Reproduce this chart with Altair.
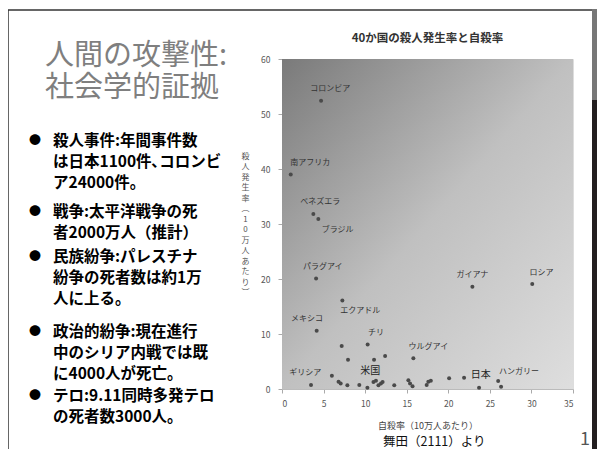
import altair as alt
import pandas as pd

FONT = "Noto Sans CJK JP"

# ---- scatter data (suicide rate, homicide rate per 100k) ----
suicide = [4.7, 1.05, 3.77, 4.37, 4.1, 22.9, 30.1, 7.26, 4.17, 7.18, 10.3, 7.94,
           11.07, 12.4, 15.8, 3.49, 6.0, 6.8, 7.06, 7.86, 9.3, 10.27, 11.0, 11.3,
           11.6, 11.9, 12.1, 13.5, 15.2, 15.4, 15.7, 17.4, 17.6, 17.9, 20.1, 21.9,
           23.7, 26.0, 26.35]
homicide = [52.4, 39.0, 31.8, 30.9, 20.1, 18.6, 19.1, 16.1, 10.6, 7.8, 8.1, 5.3,
            5.3, 6.0, 5.6, 0.73, 2.4, 1.3, 1.0, 0.67, 0.73, 0.24, 1.27, 1.5,
            0.67, 1.0, 1.27, 0.67, 1.6, 1.0, 0.48, 0.73, 1.33, 1.5, 1.94, 2.06,
            0.24, 1.45, 0.42]

# ---- country labels ----
label_names = ["コロンビア", "南アフリカ", "ベネズエラ", "ブラジル", "パラグアイ", "ガイアナ",
               "ロシア", "エクアドル", "メキシコ", "チリ", "ウルグアイ", "ギリシア", "ハンガリー"]
label_x = [5.8, 3.4, 4.6, 6.7, 4.9, 22.9, 31.2, 9.4, 3.0, 11.3, 17.6, 2.8, 28.5]
label_y = [54.5, 41.1, 34.0, 28.9, 22.2, 20.7, 21.1, 14.1, 12.7, 10.1, 7.6, 2.85, 3.1]
big_names = ["米国", "日本"]
big_x = [10.6, 23.9]
big_y = [3.3, 2.5]

x_ticks = [0, 5, 10, 15, 20, 25, 30, 35]
y_ticks = [0, 10, 20, 30, 40, 50, 60]
x_domain = [0, 35]
y_domain = [0, 60]

chart_title = "40か国の殺人発生率と自殺率"
x_title = "自殺率（10万人あたり）"
y_title = "殺人発生率︵10万人あたり︶"

# ---- slide text ----
slide_title = ["人間の攻撃性:", "社会学的証拠"]
bullets = [
    ["殺人事件:年間事件数", "は日本1100件､コロンビ", "ア24000件。"],
    ["戦争:太平洋戦争の死", "者2000万人（推計）"],
    ["民族紛争:パレスチナ", "紛争の死者数は約1万", "人に上る。"],
    ["政治的紛争:現在進行", "中のシリア内戦では既", "に4000人が死亡。"],
    ["テロ:9.11同時多発テロ", "の死者数3000人。"],
]
bullet_first_y = [141, 212, 257, 332, 396]
source_text = "舞田（2111）より"

W, H = 291, 330
OX, OY = 282, 59  # page position of plot origin
TOTAL_W, TOTAL_H = 590, 441

xs = alt.Scale(domain=x_domain, nice=False, zero=False)
ys = alt.Scale(domain=y_domain, nice=False, zero=False)

pts = pd.DataFrame({"s": suicide, "h": homicide})
labs = pd.DataFrame({"name": label_names, "lx": label_x, "ly": label_y})
bigs = pd.DataFrame({"name": big_names, "lx": big_x, "ly": big_y})
bg = pd.DataFrame({"x0": [x_domain[0]], "x1": [x_domain[1]], "y0": [y_domain[0]], "y1": [y_domain[1]]})

gradient = {
    "gradient": "linear", "x1": 0, "y1": 0, "x2": 1, "y2": 1,
    "stops": [
        {"offset": 0, "color": "#7a7a7a"},
        {"offset": 0.5, "color": "#c0c0c0"},
        {"offset": 1, "color": "#dedede"},
    ],
}

background = alt.Chart(bg).mark_rect(color=gradient).encode(
    x=alt.X("x0:Q", scale=xs,
            axis=alt.Axis(values=x_ticks, title=x_title, titleFontSize=9, titleColor="#444",
                          titleFontWeight="normal", titlePadding=14, labelFontSize=8.5,
                          labelColor="#555", tickColor="#aaa", domainColor="#bbb",
                          tickSize=4, labelPadding=6, grid=False)),
    x2="x1:Q",
    y=alt.Y("y0:Q", scale=ys,
            axis=alt.Axis(values=y_ticks, title=list(y_title), titleAngle=0,
                          titleFontSize=8, titleColor="#555", titleFontWeight="normal",
                          titleLineHeight=10.5, titleX=-37, titleY=93, titleBaseline="top",
                          labelFontSize=8.5, labelColor="#555", tickColor="#aaa",
                          domainColor="#bbb", tickSize=4, labelPadding=8, grid=False)),
    y2="y1:Q",
)

points = alt.Chart(pts).mark_circle(size=16, color="#4a4a4a", opacity=1).encode(
    x=alt.X("s:Q", scale=xs), y=alt.Y("h:Q", scale=ys)
)

labels = alt.Chart(labs).mark_text(font=FONT, fontSize=8, color="#333").encode(
    x=alt.X("lx:Q", scale=xs), y=alt.Y("ly:Q", scale=ys), text="name:N"
)
big_labels = alt.Chart(bigs).mark_text(font=FONT, fontSize=10, color="#222").encode(
    x=alt.X("lx:Q", scale=xs), y=alt.Y("ly:Q", scale=ys), text="name:N"
)

# slide text table (page pixel positions converted to plot-relative)
rows = []
for i, line in enumerate(slide_title):
    rows.append({"t": line, "px": 45 - OX, "py": 56 + 32 * i - OY, "kind": "title"})
for b, first_y in zip(bullets, bullet_first_y):
    rows.append({"t": "●", "px": 29 - OX, "py": first_y - OY, "kind": "dot"})
    for j, line in enumerate(b):
        rows.append({"t": line, "px": 53 - OX, "py": first_y + 21 * j - OY, "kind": "bullet"})
slide = pd.DataFrame(rows)

def slide_layer(kind, **kw):
    return alt.Chart(slide).transform_filter(alt.datum.kind == kind).mark_text(
        font=FONT, align="left", baseline="middle", **kw
    ).encode(x=alt.X("px:Q", scale=None), y=alt.Y("py:Q", scale=None), text="t:N")

title_layer = slide_layer("title", fontSize=29, color="#7f7f7f")
dot_layer = slide_layer("dot", fontSize=12, color="#000")
bullet_layer = slide_layer("bullet", fontSize=15.5, fontWeight="bold", color="#000")

chart_title_layer = alt.Chart(pd.DataFrame({"t": [chart_title]})).mark_text(
    font=FONT, fontSize=11.5, fontWeight="bold", color="#333", align="center", baseline="middle"
).encode(x=alt.value(W / 2), y=alt.value(39 - OY), text="t:N")

src = alt.Chart(pd.DataFrame({"t": [source_text]})).mark_text(
    font=FONT, fontSize=12.5, color="#111", align="left", baseline="middle"
).encode(x=alt.value(383 - OX), y=alt.value(442 - OY), text="t:N")

page_no = alt.Chart(pd.DataFrame({"t": ["1"]})).mark_text(
    font=FONT, fontSize=18, color="#555", align="left", baseline="middle"
).encode(x=alt.value(580 - OX), y=alt.value(440 - OY), text="t:N")

frame_top = alt.Chart(pd.DataFrame({"a": [1]})).mark_rule(color="#333", strokeWidth=1.5).encode(
    x=alt.value(8 - OX), x2=alt.value(592 - OX), y=alt.value(10 - OY))
frame_left = alt.Chart(pd.DataFrame({"a": [2]})).mark_rule(color="#333", strokeWidth=1.5).encode(
    x=alt.value(8 - OX), y=alt.value(10 - OY), y2=alt.value(457 - OY))
bar_grey = alt.Chart(pd.DataFrame({"a": [3]})).mark_rect(color="#777").encode(
    x=alt.value(592 - OX), x2=alt.value(597 - OX), y=alt.value(9 - OY), y2=alt.value(100 - OY))
bar_dark = alt.Chart(pd.DataFrame({"a": [4]})).mark_rect(color="#231f20").encode(
    x=alt.value(592 - OX), x2=alt.value(597 - OX), y=alt.value(100 - OY), y2=alt.value(457 - OY))

pad_left = OX - 8
pad_top = OY - 8
chart = alt.layer(
    background, points, labels, big_labels, chart_title_layer,
    title_layer, dot_layer, bullet_layer, src, page_no,
    frame_top, frame_left, bar_grey, bar_dark,
).properties(
    width=W, height=H,
    padding={"left": pad_left, "top": pad_top,
             "right": TOTAL_W - pad_left - W, "bottom": TOTAL_H - pad_top - H},
    autosize=alt.AutoSizeParams(type="none"),
).configure_view(stroke=None).configure(font=FONT)

chart.save("out.html", embed_options={"renderer": "svg", "actions": False})
